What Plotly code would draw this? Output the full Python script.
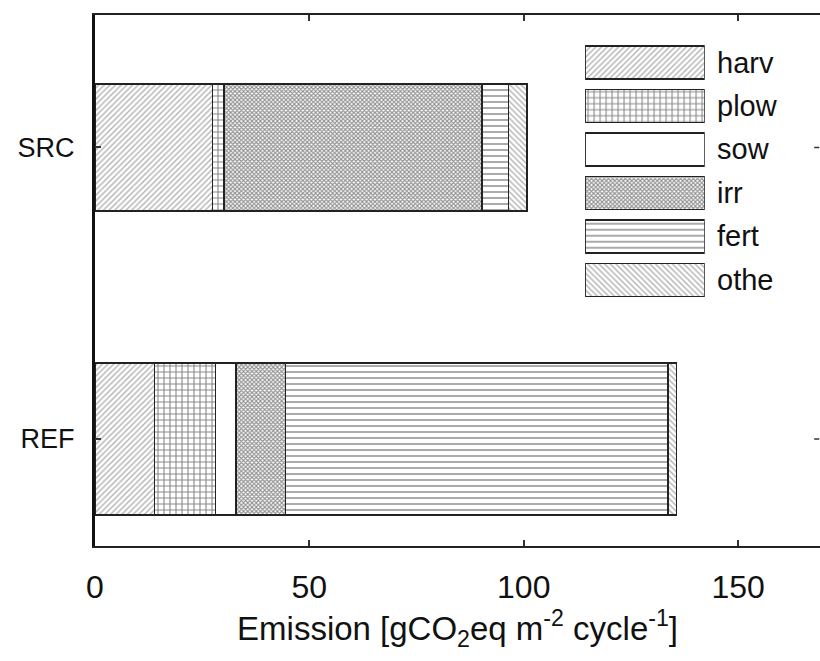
import plotly.graph_objects as go

# ---- data ----
categories = ["REF", "SRC"]
components = ["harv", "plow", "sow", "irr", "fert", "othe"]
harv = [13.9, 27.4]
plow = [14.2, 2.7]
sow = [4.8, 0.0]
irr = [11.5, 60.2]
fert = [89.2, 6.2]
othe = [2.0, 4.3]
values = [harv, plow, sow, irr, fert, othe]
xticks = [0, 50, 100, 150]

# ---- styles ----
bar_widths = [0.52, 0.436]
patterns = {
    "harv": dict(shape="/", size=4, solidity=0.35, fgcolor="#666666", bgcolor="white"),
    "plow": dict(shape="+", size=6, solidity=0.33, fgcolor="#111111", bgcolor="white"),
    "sow": dict(shape="", bgcolor="white"),
    "irr": dict(shape="x", size=3, solidity=0.6, fgcolor="#222222", bgcolor="white"),
    "fert": dict(shape="-", size=6, solidity=0.3, fgcolor="#444444", bgcolor="white"),
    "othe": dict(shape="\\", size=4, solidity=0.35, fgcolor="#666666", bgcolor="white"),
}
FONT = "Liberation Sans, Arial, sans-serif"

fig = go.Figure()
for name, vals in zip(components, values):
    fig.add_trace(go.Bar(
        y=categories, x=vals, orientation="h", name=name,
        width=bar_widths,
        marker=dict(color="white", pattern=patterns[name],
                    line=dict(color="#222222", width=1.5)),
        showlegend=False, xaxis="x", yaxis="y",
    ))

# legend drawn as an inset bar chart, labels as annotations
for name in components:
    fig.add_trace(go.Bar(
        y=[name], x=[1], orientation="h", width=0.76,
        marker=dict(color="white", pattern=patterns[name],
                    line=dict(color="#222222", width=1.5)),
        showlegend=False, xaxis="x2", yaxis="y2", hoverinfo="skip",
    ))
    fig.add_annotation(x=1, y=name, xref="x2", yref="y2", text=name,
                       showarrow=False, xanchor="left", yanchor="middle",
                       xshift=10, font=dict(size=29, family=FONT, color="#111111"))

# right-side mirrored y ticks
for i, c in enumerate(categories):
    fig.add_shape(type="line", xref="paper", yref="y", x0=0.992, x1=0.999,
                  y0=i, y1=i, line=dict(color="#333333", width=1.5))

fig.update_layout(
    width=820, height=661,
    margin=dict(l=95, r=0, t=15, b=115),
    barmode="stack",
    plot_bgcolor="white", paper_bgcolor="white",
    font=dict(family=FONT, size=29, color="#111111"),
    xaxis=dict(
        range=[0, 169.1], tickvals=xticks, ticks="inside", ticklen=6,
        tickwidth=1.5, tickcolor="#333333", showline=True, linewidth=2,
        linecolor="#222222", mirror="ticks", showgrid=False, zeroline=False,
        ticklabelstandoff=12,
        tickfont=dict(size=32),
        title=dict(text="Emission [gCO<sub>2</sub>eq m<sup>-2</sup> cycle<sup>-1</sup>]",
                   font=dict(size=33), standoff=8),
    ),
    yaxis=dict(
        type="category", categoryorder="array", categoryarray=categories,
        range=[-0.367, 1.4545], ticks="inside", ticklen=6, tickwidth=1.5,
        tickcolor="#333333", showline=True, linewidth=3, linecolor="#111111",
        showgrid=False, zeroline=False, ticklabelstandoff=12,
        tickfont=dict(size=27),
    ),
    xaxis2=dict(domain=[0.676, 0.841], range=[0, 1], anchor="y2",
                showticklabels=False, showline=False, showgrid=False,
                zeroline=False, ticks="", fixedrange=True),
    yaxis2=dict(domain=[0.460, 0.9515], anchor="x2", type="category",
                categoryorder="array", categoryarray=components,
                range=[5.5, -0.5], showticklabels=False, showline=False,
                ticks="", showgrid=False, zeroline=False, fixedrange=True),
)

fig.write_html(
    "out.html",
    config={"displayModeBar": False},
    post_script="document.body.style.margin='0';document.body.style.overflow='hidden';",
)
